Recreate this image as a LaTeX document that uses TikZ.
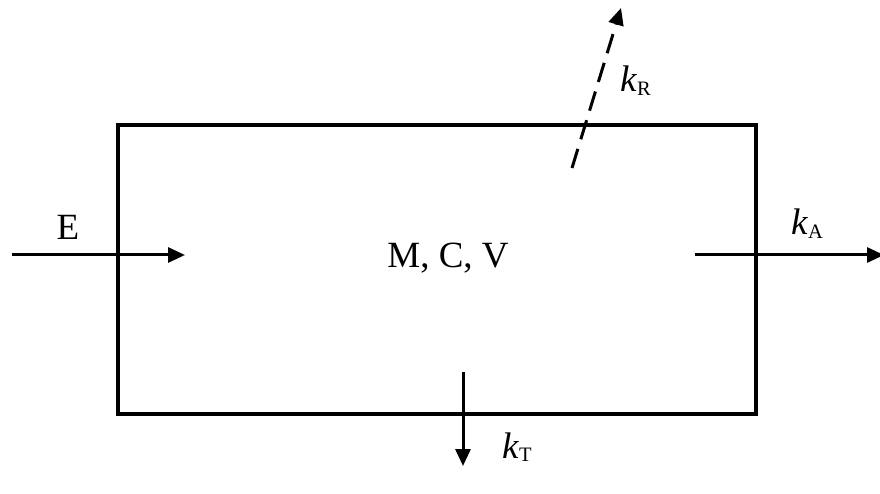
\documentclass[tikz,border=0pt]{standalone}
\usepackage{fontspec}
\setmainfont{Liberation Serif}
\usetikzlibrary{arrows.meta}
\newcommand\kksub[1]{{\fontsize{37}{42}\selectfont\itshape k}\kern0.5pt\raisebox{-3.5pt}{\fontsize{20.5}{24}\selectfont #1}}
\begin{document}
\begin{tikzpicture}[x=1pt,y=-1pt,
  flow/.style={line width=3pt,-{Triangle[length=17pt,width=15pt]}},
  lbl/.style={font=\fontsize{37}{42}\selectfont,inner sep=0pt},
  klbl/.style={inner sep=0pt,anchor=base west}]
\useasboundingbox (0,0) rectangle (880,494);
\node[draw,line width=3.2pt,minimum width=638pt,minimum height=289pt,inner sep=0pt] (box) at (437,269.5) {};
\node[lbl,anchor=base] (mcv) at (448,268) {M, C, V};
\coordinate (e0) at (12,255);
\coordinate (e1) at (185,255);
\draw[flow] (e0) -- (e1);
\node[lbl,anchor=base] (E) at (68,240) {E};
\coordinate (a0) at (695,255);
\coordinate (a1) at (884,255);
\draw[flow] (a0) -- (a1);
\node[klbl] (kA) at (791,235) {\kksub{A}};
\coordinate (t0) at (463,372);
\coordinate (t1) at (463,466);
\draw[flow] (t0) -- (t1);
\node[klbl] (kT) at (502,458) {\kksub{T}};
\coordinate (r0) at (572,168);
\coordinate (r1) at (621,8);
\draw[flow,dash pattern=on 20pt off 10pt] (r0) -- (r1);
\node[klbl] (kR) at (620,92) {\kksub{R}};
\end{tikzpicture}
\end{document}
